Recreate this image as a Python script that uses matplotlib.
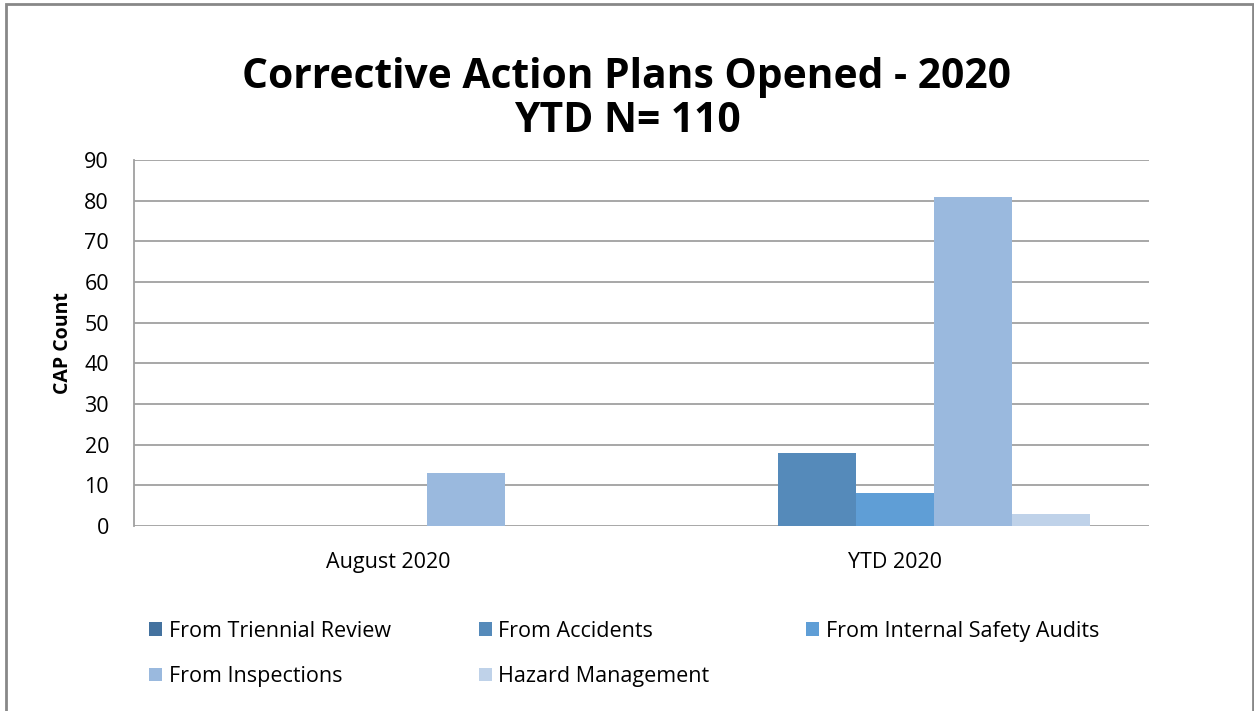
import numpy as np
import matplotlib
matplotlib.use("Agg")
import matplotlib.pyplot as plt
from matplotlib.patches import Rectangle, Patch

# chart data
categories = ["August 2020", "YTD 2020"]
series_names = ["From Triennial Review", "From Accidents", "From Internal Safety Audits",
                "From Inspections", "Hazard Management"]
triennial = [0, 0]
accidents = [0, 18]
internal_audits = [0, 8]
inspections = [13, 81]
hazard = [0, 3]
yticks = [0, 10, 20, 30, 40, 50, 60, 70, 80, 90]

colors = ["#44729F", "#558ABA", "#5F9ED6", "#9AB9DE", "#BFD2E9"]

plt.rcParams["font.family"] = ["Open Sans", "DejaVu Sans"]

fig = plt.figure(figsize=(12.54, 7.11), dpi=100)
ax = fig.add_axes([0.1069, 0.2602, 0.8094, 0.5148])

values = [triennial, accidents, internal_audits, inspections, hazard]
x = np.arange(len(categories))
w = 1 / 6.5
for i, (vals, c) in enumerate(zip(values, colors)):
    ax.bar(x + (i - 2) * w, vals, width=w, color=c, zorder=3)

ax.set_xlim(-0.5, len(categories) - 0.5)
ax.set_ylim(0, 90)
ax.set_yticks(yticks)
ax.set_xticks(x)
ax.set_xticklabels(categories, fontsize=15.5)
ax.tick_params(axis="y", length=0, pad=18, labelsize=15.5)
ax.tick_params(axis="x", length=0, pad=19)
ax.yaxis.grid(True, color="#A0A0A0", linewidth=1.3, zorder=0)
for s in ["top", "right", "bottom"]:
    ax.spines[s].set_visible(False)
ax.spines["left"].set_color("#A0A0A0")
ax.spines["left"].set_linewidth(1.3)
ax.set_ylabel("CAP Count", fontsize=14, fontweight="bold", labelpad=8)

fig.text(0.5, 0.860, "Corrective Action Plans Opened - 2020\nYTD N= 110",
         ha="center", va="center", fontsize=29.3, fontweight="bold", linespacing=1.12)

# legend laid out in three columns like the original
handles = [Patch(facecolor=c) for c in colors]
cols = [(0.119, [0, 3]), (0.382, [1, 4]), (0.643, [2])]
for xpos, idx in cols:
    fig.legend([handles[i] for i in idx], [series_names[i] for i in idx],
               loc="upper left", bbox_to_anchor=(xpos, 0.127),
               bbox_transform=fig.transFigure, frameon=False, fontsize=15.5,
               handlelength=0.6, handleheight=0.6, handletextpad=0.3,
               labelspacing=1.13, borderaxespad=0, borderpad=0)

# outer chart border
fig.add_artist(Rectangle((0.0044, -0.02), 0.9948, 1.0144, transform=fig.transFigure,
                         fill=False, edgecolor="#888888", linewidth=2))

fig.savefig("out.png", dpi=100)
